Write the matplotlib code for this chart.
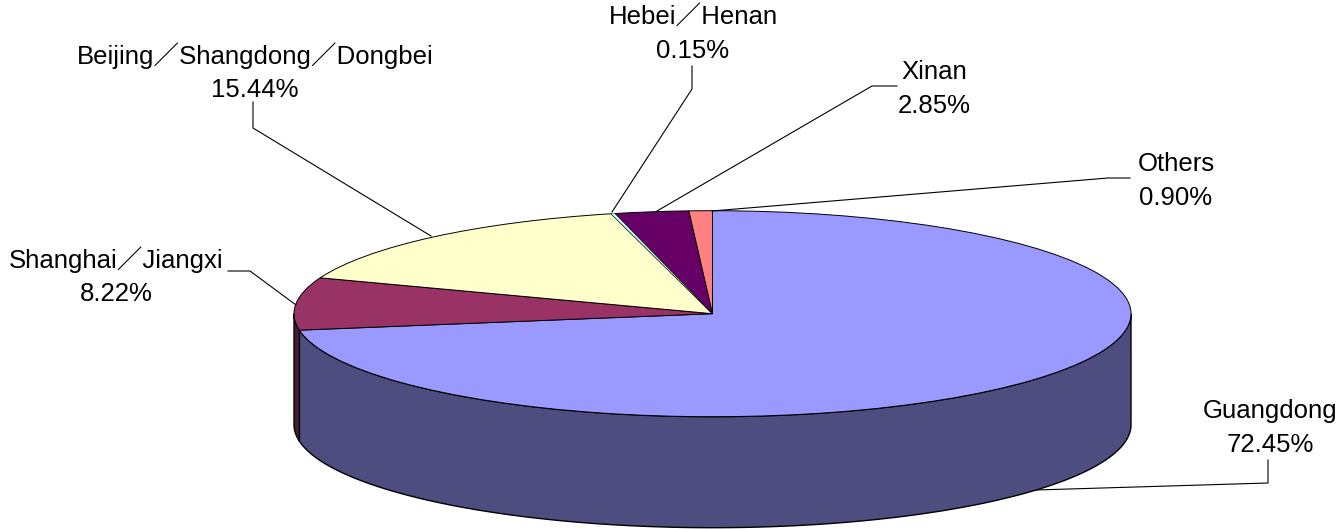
#!/usr/bin/env python3
# 3D style pie of regional share, drawn as flat wedges on a squashed circle
import matplotlib
matplotlib.use("Agg")
import matplotlib.pyplot as plt
import numpy as np

from matplotlib.patches import Polygon, Wedge
from matplotlib.transforms import Affine2D

plt.rcParams["font.family"] = ["Liberation Sans", "Noto Sans CJK JP"]

# Clockwise from 12 o'clock
REGIONS = ["Guangdong", "Shanghai／Jiangxi", "Beijing／Shangdong／Dongbei",
           "Hebei／Henan", "Xinan", "Others"]
SHARES = [72.45, 8.22, 15.44, 0.15, 2.85, 0.90]
COLOURS = ["#9999FF", "#993366", "#FFFFCC", "#CCFFFF", "#660066", "#FF8080"]
SIDE_COLOURS = ["#4D4D80", "#4D1A33", "#80806A", "#668080", "#330033", "#804040"]

# Pixel layout of the pie
CX, CY = 712.5, 313.7
RX, RY = 418.5, 103.0
DEPTH = 111.0

# Label centre and leader line for each region
LABEL_POS = [(1270, 428), (116, 276), (255, 72), (693, 34), (934, 89), (1176, 181)]
LEADERS = [
  [(1036, 490), (1268, 483), (1268, 460)],
  [(296, 305), (250, 271), (228, 271)],
  [(431, 236), (253, 128), (253, 102)],
  [(612, 212), (692, 89), (692, 66)],
  [(657, 211), (872, 86), (897, 86)],
  [(712, 211), (1108, 178), (1130, 178)],
]

def ellipse_points(start, end, dy=0.0):
  t = np.radians(np.linspace(start, end, 200))
  return np.column_stack([CX + RX * np.sin(t), CY + dy - RY * np.cos(t)])

def main():
  fig = plt.figure(figsize=(13.39, 5.29), dpi=100)
  ax = fig.add_axes([0, 0, 1, 1])
  ax.set_xlim(0, 1339)
  ax.set_ylim(529, 0)
  ax.axis("off")

  edges = np.concatenate([[0], np.cumsum(SHARES)]) / sum(SHARES) * 360.0

  # Side walls, only the part of the rim facing the viewer
  for i in range(len(SHARES)):
    start = max(edges[i], 90.0)
    end = min(edges[i + 1], 270.0)
    if start >= end:
      continue
    points = np.vstack([ellipse_points(start, end), ellipse_points(start, end, DEPTH)[::-1]])
    ax.add_patch(Polygon(points, closed=True, facecolor=SIDE_COLOURS[i],
                         edgecolor="black", linewidth=1.0))

  # Top face: unit wedges scaled into the ellipse, -90 because angles start at 12 o'clock
  # The 0.15% sliver goes on top with a hairline, or it disappears under the edges
  squash = Affine2D().scale(RX, RY).translate(CX, CY) + ax.transData
  for i in range(len(SHARES)):
    sliver = SHARES[i] < 0.5
    ax.add_patch(Wedge((0, 0), 1, edges[i] - 90.0, edges[i + 1] - 90.0, transform=squash,
                       facecolor=COLOURS[i], edgecolor="black",
                       linewidth=0.25 if sliver else 0.7, zorder=2 if sliver else 1))

  for i in range(len(SHARES)):
    xs, ys = zip(*LEADERS[i])
    ax.plot(xs, ys, color="black", linewidth=0.8, zorder=3)
    ax.text(LABEL_POS[i][0], LABEL_POS[i][1], f"{REGIONS[i]}\n{SHARES[i]:.2f}%",
            ha="center", va="center", fontsize=18.5, color="black", linespacing=1.5)

  fig.savefig("out.png", dpi=100)

if __name__ == "__main__":
  main()
